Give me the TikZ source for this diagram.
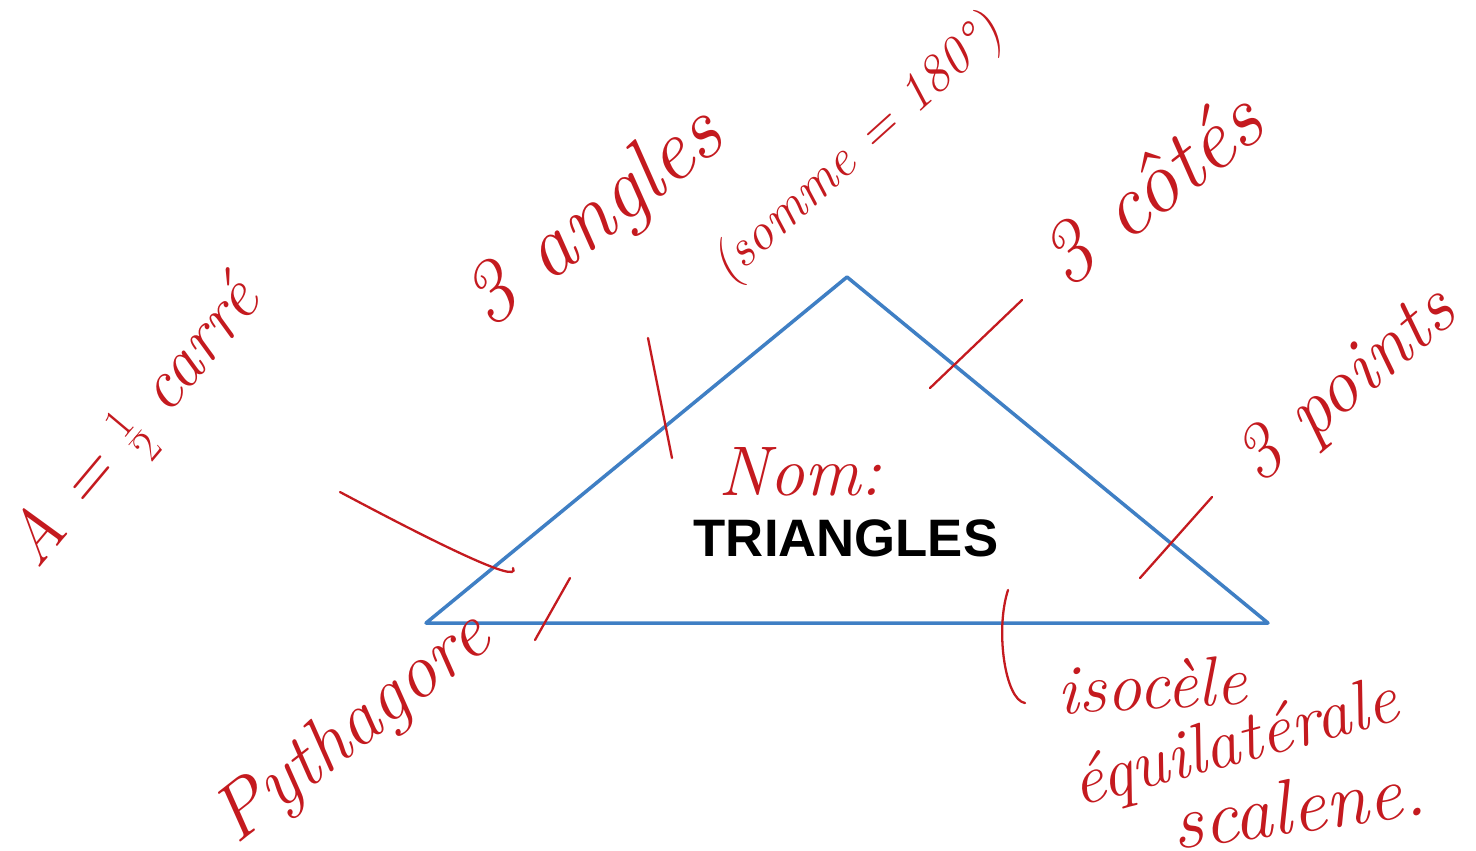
\documentclass[tikz,border=0pt]{standalone}
\usepackage{fontspec}
\newfontfamily\titlefont{Liberation Sans}
\usetikzlibrary{positioning}
\definecolor{pen}{HTML}{C41A1F}
\definecolor{triblue}{HTML}{3F7FC4}

\begin{document}
\begin{tikzpicture}[x=0.02cm, y=-0.02cm,
  hand/.style={text=pen, font=\itshape, inner sep=0pt},
  tick/.style={draw=pen, line width=1.3pt, line cap=round}]
  \useasboundingbox (0,0) rectangle (1476,850);

  % the triangle
  \coordinate (top) at (847,277);
  \coordinate (lft) at (426,623);
  \coordinate (rgt) at (1268,623);
  \draw[triblue, line width=2pt, line join=round] (top) -- (lft) -- (rgt) -- cycle;

  \node[hand, font=\itshape\fontsize{40}{40}\selectfont] (nom) at (800,472) {Nom:};
  \node[font=\titlefont\bfseries\fontsize{30}{30}\selectfont, inner sep=0pt] (title) at (846,538) {TRIANGLES};

  % notes round it
  \node[hand, rotate=38, font=\itshape\fontsize{50}{50}\selectfont] (angles) at (596,220) {3 angles};
  \node[hand, rotate=42, font=\itshape\fontsize{30}{30}\selectfont] (somme) at (858,150) {(somme = 180\textdegree)};
  \node[hand, rotate=38, font=\itshape\fontsize{50}{50}\selectfont] (cotes) at (1150,188) {3 côtés};
  \node[hand, rotate=40, font=\itshape\fontsize{44}{44}\selectfont] (points) at (1348,388) {3 points};
  \node[hand, rotate=50, font=\itshape\fontsize{40}{40}\selectfont] (aire) at (138,426) {A = $\frac{1}{2}$ carré};
  \node[hand, rotate=38, font=\itshape\fontsize{44}{44}\selectfont] (pyth) at (354,730) {Pythagore};
  \node[hand, rotate=3, font=\itshape\fontsize{40}{40}\selectfont] (iso) at (1152,685) {isocèle};
  \node[hand, rotate=15, font=\itshape\fontsize{40}{40}\selectfont] (equi) at (1236,746) {équilatérale};
  \node[hand, rotate=8, font=\itshape\fontsize{44}{44}\selectfont] (scal) at (1298,806) {scalene.};

  % strokes from the edges to the notes
  \coordinate (aireA) at (340,492);
  \coordinate (aireB) at (513,568);
  \draw[tick] (aireA) .. controls (430,540) and (522,586) .. (aireB);
  \coordinate (anglA) at (648,338);
  \coordinate (anglB) at (672,458);
  \draw[tick] (anglA) -- (anglB);
  \coordinate (cotA) at (1022,300);
  \coordinate (cotB) at (930,388);
  \draw[tick] (cotA) -- (cotB);
  \coordinate (ptA) at (1212,497);
  \coordinate (ptB) at (1140,578);
  \draw[tick] (ptA) -- (ptB);
  \coordinate (pyA) at (570,578);
  \coordinate (pyB) at (535,640);
  \draw[tick] (pyA) -- (pyB);
  \coordinate (sortA) at (1008,590);
  \coordinate (sortB) at (1025,703);
  \draw[tick] (sortA) .. controls (995,630) and (1005,700) .. (sortB);
\end{tikzpicture}
\end{document}
